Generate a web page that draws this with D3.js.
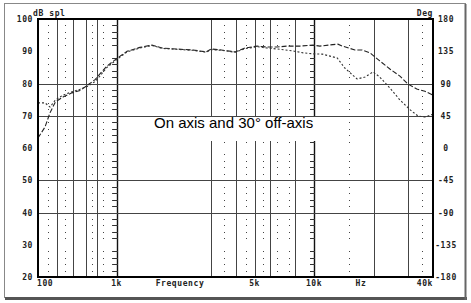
<!DOCTYPE html>
<html>
<head>
<meta charset="utf-8">
<script src="https://cdn.jsdelivr.net/npm/d3@7"></script>
<style>
  html, body { margin: 0; padding: 0; background: #fff; }
  svg { display: block; }
  .lbl { font-family: "DejaVu Sans Mono", monospace; font-size: 8px; font-weight: bold; fill: #222; letter-spacing: 0.6px; }
  .title { font-family: "Liberation Sans", Arial, sans-serif; font-size: 15px; fill: #000; }
</style>
</head>
<body>
<div id="chart"></div>
<script>
// frequency (Hz) / level (dB spl)
const onAxisFreq = [400, 434, 460, 490, 535, 594, 653, 717, 778, 830, 894, 1000, 1130, 1313, 1511, 1700, 2000, 2430, 2840, 3010, 3390, 3980, 4470, 5150, 5780, 6490, 7300, 8480, 9900, 10700, 11800, 13200, 13900, 16100, 17500, 19200, 21500, 24200, 27200, 29900, 33100, 36400, 40000];
const onAxisDb   = [63.1, 66.5, 70.9, 74.3, 75.8, 77.1, 77.8, 79.6, 81.2, 83.2, 85.4, 87.7, 90.0, 91.2, 91.9, 91.0, 90.7, 90.4, 89.8, 90.7, 90.4, 89.8, 91.0, 91.6, 91.3, 91.3, 91.6, 91.6, 91.9, 91.6, 91.9, 92.2, 91.6, 90.4, 90.4, 89.5, 87.0, 84.5, 82.3, 79.8, 78.3, 77.6, 76.4];

const offAxisFreq = [400, 434, 460, 490, 535, 594, 653, 717, 778, 830, 894, 1000, 1130, 1313, 1511, 1700, 2000, 2430, 2840, 3010, 3390, 3980, 4470, 5150, 5780, 6490, 7800, 8800, 9900, 11000, 13100, 14300, 16500, 18100, 19900, 21500, 24200, 27200, 30700, 33600, 36400, 39000, 40000];
const offAxisDb   = [74.0, 74.0, 72.7, 74.9, 76.4, 77.4, 78.2, 79.2, 80.6, 82.6, 85.0, 87.4, 89.8, 91.0, 91.8, 90.9, 90.6, 90.3, 89.7, 90.5, 90.3, 89.7, 90.8, 91.4, 91.0, 90.7, 90.1, 89.5, 89.2, 89.1, 87.9, 84.8, 81.4, 82.0, 83.6, 82.0, 78.6, 74.9, 71.8, 69.9, 69.6, 70.2, 70.6];

// axis labels
const xTickFreqs  = [400, 1000, 5000, 10000, 40000];
const xTickLabels = ["100", "1k", "5k", "10k", "40k"];
const yTicks      = [100, 90, 80, 70, 60, 50, 40, 30, 20];
const degTicks    = [180, 135, 90, 45, 0, -45, -90, -135, -180];

// grid
const majorFreqs  = [500, 600, 700, 800, 1000, 3000, 4000, 5000, 6000, 8000, 10000, 20000, 30000];
const minorFreqs  = [450, 550, 750, 850, 950, 3500, 4500, 5500, 6500, 7500, 9500, 15000, 35000];
const majorDb     = [80, 70, 50, 40];

const W = 471, H = 303;
const pLeft = 38, pRight = 433, pTop = 19, pBottom = 277;

const svg = d3.select("#chart").append("svg")
    .attr("width", W)
    .attr("height", H);

const x = d3.scaleLog().domain([400, 40000]).range([pLeft, pRight]);
const y = d3.scaleLinear().domain([20, 100]).range([pBottom, pTop]);
const yDeg = d3.scaleLinear().domain([-180, 180]).range([pBottom, pTop]);

// outer frame with shadow
svg.append("rect")
    .attr("x", 4.5).attr("y", 3.5)
    .attr("width", 461).attr("height", 294)
    .attr("fill", "none").attr("stroke", "#888").attr("stroke-width", 1);
svg.append("line").attr("x1", 5).attr("x2", 467).attr("y1", 298.5).attr("y2", 298.5)
    .attr("stroke", "#555").attr("stroke-width", 3);
svg.append("line").attr("x1", 465.5).attr("x2", 465.5).attr("y1", 4).attr("y2", 300)
    .attr("stroke", "#666").attr("stroke-width", 2);

const grid = svg.append("g");

// solid grid
grid.selectAll(".vmaj").data(majorFreqs).enter().append("line")
    .attr("x1", d => Math.round(x(d)) + 0.5).attr("x2", d => Math.round(x(d)) + 0.5)
    .attr("y1", pTop).attr("y2", pBottom)
    .attr("stroke", d => (d === 1000 || d === 10000) ? "#111" : "#444")
    .attr("stroke-width", d => (d === 1000 || d === 10000) ? 1.4 : 1);

grid.selectAll(".hmaj").data(majorDb).enter().append("line")
    .attr("x1", pLeft).attr("x2", pRight)
    .attr("y1", d => Math.round(y(d)) + 0.5).attr("y2", d => Math.round(y(d)) + 0.5)
    .attr("stroke", "#444").attr("stroke-width", 1);

// dotted minor levels every 2 dB
const minorDb = y.ticks(40).filter(d => d % 10 !== 0);
minorFreqs.forEach(f => {
    grid.selectAll(null).data(minorDb).enter().append("rect")
        .attr("x", Math.round(x(f))).attr("y", d => Math.round(y(d)))
        .attr("width", 1).attr("height", 1)
        .attr("fill", "#444");
});
[1000, 10000].forEach(f => {
    grid.selectAll(null).data(minorDb).enter().append("rect")
        .attr("x", Math.round(x(f)) - 4).attr("y", d => Math.round(y(d)))
        .attr("width", 5).attr("height", 1)
        .attr("fill", "#333");
});

// caption with white backing
svg.append("rect")
    .attr("x", 150).attr("y", 117).attr("width", 167).attr("height", 24)
    .attr("fill", "#fff");
svg.append("text").attr("class", "title")
    .attr("x", 154).attr("y", 127.5)
    .text("On axis and 30\u00b0 off-axis");

// curves
const line = d3.line().x(d => x(d[0])).y(d => y(d[1]));

svg.append("path")
    .datum(d3.zip(onAxisFreq, onAxisDb))
    .attr("d", line)
    .attr("fill", "none").attr("stroke", "#222").attr("stroke-width", 1.1)
    .attr("stroke-dasharray", "5,2");

svg.append("path")
    .datum(d3.zip(offAxisFreq, offAxisDb))
    .attr("d", line)
    .attr("fill", "none").attr("stroke", "#333").attr("stroke-width", 1.1)
    .attr("stroke-dasharray", "2,2");

// plot border
svg.append("rect")
    .attr("x", pLeft).attr("y", pTop)
    .attr("width", pRight - pLeft).attr("height", pBottom - pTop)
    .attr("fill", "none").attr("stroke", "#000").attr("stroke-width", 2);

// labels
svg.selectAll(".yl").data(yTicks).enter().append("text")
    .attr("class", "lbl")
    .attr("x", 33).attr("y", d => y(d) + 3)
    .attr("text-anchor", "end")
    .text(d => d);

svg.selectAll(".dl").data(degTicks).enter().append("text")
    .attr("class", "lbl")
    .attr("x", 446).attr("y", d => yDeg(d) + 3)
    .attr("text-anchor", "middle")
    .text(d => d);

svg.selectAll(".xl").data(xTickFreqs).enter().append("text")
    .attr("class", "lbl")
    .attr("x", (d, i) => i === 0 ? pLeft - 1 : x(d))
    .attr("y", 286)
    .attr("text-anchor", (d, i) => i === 0 ? "start" : (i === xTickFreqs.length - 1 ? "end" : "middle"))
    .text((d, i) => xTickLabels[i]);

svg.append("text").attr("class", "lbl").attr("x", 180).attr("y", 286)
    .attr("text-anchor", "middle").text("Frequency");
svg.append("text").attr("class", "lbl").attr("x", 361).attr("y", 286)
    .attr("text-anchor", "middle").text("Hz");
svg.append("text").attr("class", "lbl").attr("x", 33).attr("y", 16)
    .text("dB spl");
svg.append("text").attr("class", "lbl").attr("x", 433).attr("y", 16)
    .attr("text-anchor", "end").text("Deg");
</script>
</body>
</html>
